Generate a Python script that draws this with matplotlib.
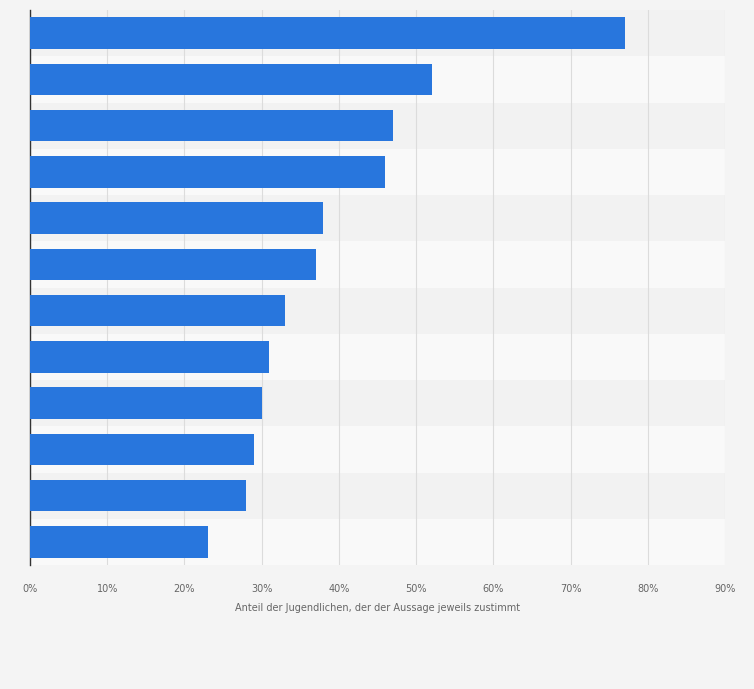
import numpy as np
import matplotlib
matplotlib.use("Agg")
from matplotlib import pyplot as plt

values = [77, 52, 47, 46, 38, 37, 33, 31, 30, 29, 28, 23]
tick_values = [0, 10, 20, 30, 40, 50, 60, 70, 80, 90]
tick_labels = [str(t) + "%" for t in tick_values]
x_label = "Anteil der Jugendlichen, der der Aussage jeweils zustimmt"

W, H = 754, 689
fig = plt.figure(figsize=(W / 100, H / 100), dpi=100)
fig.patch.set_facecolor("#f4f4f4")
ax = fig.add_axes([30 / W, 1 - 565 / H, 695 / W, 555 / H])
ax.set_facecolor("#f9f9f9")

n = len(values)
y = np.arange(n)
# alternating row bands
for i in y:
    ax.axhspan(i - 0.5, i + 0.5, color="#f2f2f2" if i % 2 == 0 else "#f9f9f9", zorder=0, lw=0)

ax.barh(y, values, height=0.68, color="#2876dd", zorder=3)
ax.set_ylim(n - 0.5, -0.5)
ax.set_xlim(0, 90)
ax.set_xticks(tick_values)
ax.set_xticklabels(tick_labels, fontsize=7, color="#666666")
ax.set_yticks([])
ax.xaxis.grid(True, color="#dcdcdc", lw=0.8, zorder=1)
ax.tick_params(axis="x", length=0, pad=14)
for s in ["top", "right", "bottom"]:
    ax.spines[s].set_visible(False)
ax.spines["left"].set_color("#333333")
ax.spines["left"].set_linewidth(1)
ax.set_xlabel(x_label, fontsize=7, color="#666666", labelpad=6)

fig.savefig("out.png", dpi=100, facecolor=fig.get_facecolor())
